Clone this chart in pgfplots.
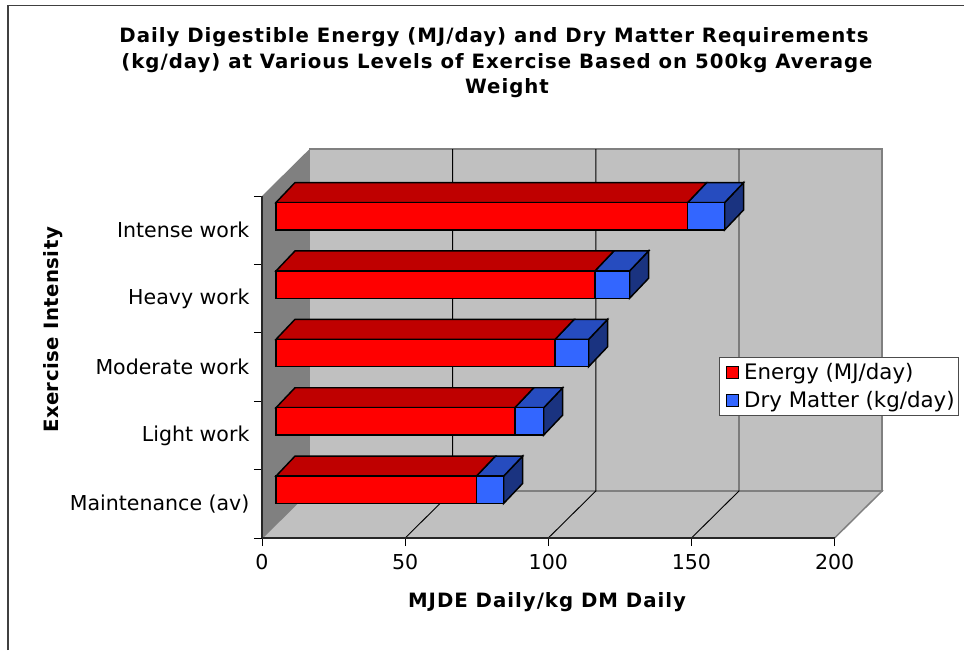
\documentclass[border=0pt]{standalone}
\usepackage{fontspec}
\setmainfont{DejaVu Sans}
\usepackage{pgfplots}
\pgfplotsset{compat=1.18}
\definecolor{wallc}{HTML}{C0C0C0}
\definecolor{sidec}{HTML}{808080}
\definecolor{redf}{HTML}{FF0000}
\definecolor{redt}{HTML}{BF0000}
\definecolor{bluef}{HTML}{3366FF}
\definecolor{bluet}{HTML}{264CBF}
\definecolor{blues}{HTML}{1A3380}
\newcommand{\tf}{\fontsize{15.4}{18}\selectfont}
\newcommand{\lf}{\fontsize{16}{18}\selectfont}
\newcommand{\tb}{\fontsize{14.8}{18}\selectfont\bfseries\addfontfeatures{LetterSpace=5}}
\newcommand{\yb}{\fontsize{14.8}{18}\selectfont\bfseries\addfontfeatures{LetterSpace=2.2}}
\pgfplotsset{face/.style={sharp plot,no marks,forget plot,fill=#1,draw=black,line width=1.1pt,stack plots=false}}
\begin{document}
\begin{tikzpicture}[x=0.75pt,y=0.75pt]
\useasboundingbox (0,0) rectangle (964,-650);
\draw[black!75,line width=1.1pt] (8,-650) -- (8,-5.5) -- (964,-5.5);
% main axis: walls, ticks, labels
\begin{axis}[
  at={(196.5pt,-403.5pt)},anchor=origin,
  scale only axis,width=429.45pt,height=256.5pt,
  xmin=0,xmax=200,ymin=0,ymax=5,clip=false,axis on top,
  axis x line=bottom,axis y line=left,
  axis line style={-,black!85,line width=0.8pt},
  xtick={0,50,100,150,200},
  ytick={0.5,1.5,2.5,3.5,4.5},
  yticklabels={Maintenance (av),Light work,Moderate work,Heavy work,Intense work},
  minor ytick={0,1,2,3,4,5},
  tick align=outside,
  major tick length=6pt,
  minor tick length=6pt,
  tick style={black,line width=0.6pt},
  major y tick style={draw=none},
  /pgf/number format/assume math mode=true,
  tick label style={font=\tf,black},
  xticklabel style={yshift=-3.75pt,inner sep=2pt},
  yticklabel style={xshift=-1.25pt,inner sep=2pt},
]
\addplot[fill=sidec,draw=none] coordinates {(0,0)(16.6,0.687)(16.6,5.687)(0,5)} -- cycle;
\addplot[fill=wallc,draw=sidec,line width=1.1pt] coordinates {(16.6,0.687)(216.6,0.687)(216.6,5.687)(16.6,5.687)} -- cycle;
\addplot[fill=wallc,draw=sidec,line width=1.1pt] coordinates {(0,0)(200,0)(216.6,0.687)(16.6,0.687)} -- cycle;
\addplot[black,line width=0.7pt] coordinates {(50,0)(66.6,0.687)(66.6,5.687)};
\addplot[black,line width=0.7pt] coordinates {(100,0)(116.6,0.687)(116.6,5.687)};
\addplot[black,line width=0.7pt] coordinates {(150,0)(166.6,0.687)(166.6,5.687)};
\end{axis}
% bars in the plane 14 px behind the front
\begin{axis}[
  at={(207pt,-393pt)},anchor=origin,
  scale only axis,width=429.45pt,height=256.5pt,
  xmin=0,xmax=200,ymin=0,ymax=5,clip=false,hide axis,
  xbar stacked,bar width=20.6pt,
  legend style={at={(0.774,0.489)},anchor=north west,draw=black!70,line width=0.5pt,
    font=\lf,inner xsep=1pt,inner ysep=2.5pt,row sep=3.5pt,legend cell align=left},
  legend image code/.code={\path[draw=none,fill=none] (0pt,0pt) -- (15.5pt,0pt);\draw[#1,line width=0.9pt] (4.5pt,-4.5pt) rectangle (13.5pt,4.5pt);},
]
\addplot[fill=redf,draw=black,line width=1.1pt] coordinates {(70,0.5)(83.4,1.5)(97.5,2.5)(111.4,3.5)(143.8,4.5)};
\addplot[fill=bluef,draw=black,line width=1.1pt] coordinates {(9.5,0.5)(10.1,1.5)(11.7,2.5)(12.1,3.5)(12.9,4.5)};
% maintenance
\addplot[face=redt] coordinates {(0,0.7)(6.63,0.992)(76.63,0.992)(70,0.7)} -- cycle;
\addplot[face=bluet] coordinates {(70,0.7)(76.63,0.992)(86.13,0.992)(79.5,0.7)} -- cycle;
\addplot[face=blues] coordinates {(79.5,0.3)(86.13,0.592)(86.13,0.992)(79.5,0.7)} -- cycle;
% light
\addplot[face=redt] coordinates {(0,1.7)(6.63,1.992)(90.03,1.992)(83.4,1.7)} -- cycle;
\addplot[face=bluet] coordinates {(83.4,1.7)(90.03,1.992)(100.13,1.992)(93.5,1.7)} -- cycle;
\addplot[face=blues] coordinates {(93.5,1.3)(100.13,1.592)(100.13,1.992)(93.5,1.7)} -- cycle;
% moderate
\addplot[face=redt] coordinates {(0,2.7)(6.63,2.992)(104.13,2.992)(97.5,2.7)} -- cycle;
\addplot[face=bluet] coordinates {(97.5,2.7)(104.13,2.992)(115.83,2.992)(109.2,2.7)} -- cycle;
\addplot[face=blues] coordinates {(109.2,2.3)(115.83,2.592)(115.83,2.992)(109.2,2.7)} -- cycle;
% heavy
\addplot[face=redt] coordinates {(0,3.7)(6.63,3.992)(118.03,3.992)(111.4,3.7)} -- cycle;
\addplot[face=bluet] coordinates {(111.4,3.7)(118.03,3.992)(130.13,3.992)(123.5,3.7)} -- cycle;
\addplot[face=blues] coordinates {(123.5,3.3)(130.13,3.592)(130.13,3.992)(123.5,3.7)} -- cycle;
% intense
\addplot[face=redt] coordinates {(0,4.7)(6.63,4.992)(150.43,4.992)(143.8,4.7)} -- cycle;
\addplot[face=bluet] coordinates {(143.8,4.7)(150.43,4.992)(163.33,4.992)(156.7,4.7)} -- cycle;
\addplot[face=blues] coordinates {(156.7,4.3)(163.33,4.592)(163.33,4.992)(156.7,4.7)} -- cycle;
\legend{Energy (MJ/day),Dry Matter (kg/day)}
\end{axis}
\node[anchor=base,font=\tb] at (494,-42) {Daily Digestible Energy (MJ/day) and Dry Matter Requirements};
\node[anchor=base,font=\tb] at (497,-68) {(kg/day) at Various Levels of Exercise Based on 500kg Average};
\node[anchor=base,font=\tb] at (507,-93) {Weight};
\node[anchor=base,font=\tb] at (547,-607) {MJDE Daily/kg DM Daily};
\node[anchor=base,font=\yb,rotate=90] at (58,-330) {Exercise Intensity};
\end{tikzpicture}
\end{document}
